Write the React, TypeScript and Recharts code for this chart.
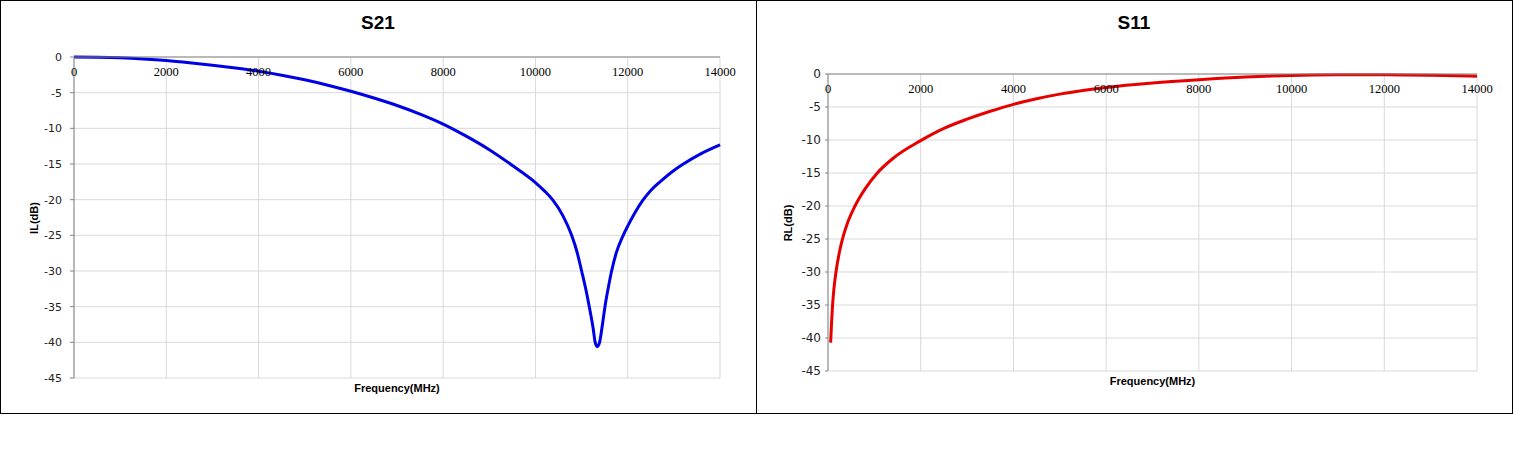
import { LineChart, Line, XAxis, YAxis, CartesianGrid } from 'recharts';

// S21 insertion loss
const s21Freq = [
  0, 500, 1000, 1500, 2000, 2500, 3000, 3500, 4000, 4500, 5000, 5500, 6000,
  6500, 7000, 7500, 8000, 8500, 9000, 9500, 10000, 10200, 10370, 10600, 10785,
  10900, 11001, 11100, 11167, 11250, 11295, 11340, 11390, 11450, 11507, 11580,
  11651, 11750, 11903, 12000, 12150, 12337, 12500, 12700, 13000, 13205, 13600,
  14000,
];
const s21Loss = [
  0, -0.03, -0.12, -0.28, -0.5, -0.8, -1.15, -1.55, -2.0, -2.55, -3.2, -3.95,
  -4.8, -5.75, -6.8, -8.0, -9.4, -11.1, -13.0, -15.2, -17.6, -18.8, -20, -22.3,
  -25, -27.3, -30, -32.8, -35, -38, -40, -40.6, -40, -37.6, -35, -32.3, -30,
  -27.5, -25, -23.7, -21.9, -20, -18.7, -17.5, -15.9, -15, -13.5, -12.3,
];

// S11 return loss
const s11Freq = [
  57, 75, 93, 130, 172, 240, 309, 430, 582, 800, 1050, 1400, 2000, 2500, 3000,
  3500, 4000, 4500, 5000, 5500, 6000, 7000, 8000, 9000, 10000, 11000, 12000,
  13000, 14000,
];
const s11Loss = [
  -40.7, -38, -35.6, -32.4, -30, -27.2, -25.1, -22.4, -20, -17.4, -15.1, -12.8,
  -10.1, -8.25, -6.85, -5.65, -4.6, -3.75, -3.05, -2.5, -2.05, -1.38, -0.88,
  -0.47, -0.22, -0.12, -0.1, -0.18, -0.35,
];

const freqTicks = [0, 2000, 4000, 6000, 8000, 10000, 12000, 14000];
const dbTicks = [0, -5, -10, -15, -20, -25, -30, -35, -40, -45];

const s21Data = s21Freq.map((f, i) => ({ f, v: s21Loss[i] }));
const s11Data = s11Freq.map((f, i) => ({ f, v: s11Loss[i] }));

function Panel({
  data,
  color,
  title,
  yLabel,
  margin,
  yFont,
  yGap,
  yTickLen,
  freqTop,
  leftPx,
}: any) {
  const plotLeft = margin.left;
  const plotRight = 756 - margin.right;
  const plotTop = margin.top;
  const plotBottom = 412 - margin.bottom;

  const freqTick = (p: any) => (
    <text
      key={p.index}
      x={p.x}
      y={plotTop + 19}
      textAnchor="middle"
      fontFamily="'Liberation Serif', serif"
      fontSize={12.5}
      fill="#000"
    >
      {p.payload.value}
    </text>
  );

  return (
    <div style={{ position: 'absolute', left: leftPx, top: 0, width: 756, height: 412 }}>
      <div
        style={{
          position: 'absolute',
          left: 0,
          width: 756,
          top: 12,
          textAlign: 'center',
          fontFamily: "'Liberation Sans', sans-serif",
          fontWeight: 'bold',
          fontSize: 19,
        }}
      >
        {title}
      </div>
      <div
        style={{
          position: 'absolute',
          left: (plotLeft + plotRight) / 2 - 100,
          width: 200,
          top: freqTop,
          textAlign: 'center',
          fontFamily: "'Liberation Sans', sans-serif",
          fontWeight: 'bold',
          fontSize: 11,
        }}
      >
        Frequency(MHz)
      </div>
      <div
        style={{
          position: 'absolute',
          left: yLabel.x - 50,
          top: (plotTop + plotBottom) / 2 - 8,
          width: 100,
          height: 16,
          lineHeight: '16px',
          textAlign: 'center',
          transform: 'rotate(-90deg)',
          fontFamily: "'Liberation Sans', sans-serif",
          fontWeight: 'bold',
          fontSize: 11,
        }}
      >
        {yLabel.text}
      </div>
      <LineChart
        width={756}
        height={412}
        data={data}
        margin={{ top: margin.top - 1, right: margin.right, bottom: margin.bottom, left: 0 }}
        style={{ position: 'absolute', left: 0, top: 0 }}
      >
        <CartesianGrid stroke="#d9d9d9" strokeWidth={1} horizontalValues={dbTicks} verticalValues={freqTicks} />
        <XAxis
          dataKey="f"
          type="number"
          orientation="top"
          domain={[0, 14000]}
          ticks={freqTicks}
          height={1}
          tickSize={0}
          tickMargin={0}
          tickLine={false}
          axisLine={{ stroke: '#868686' }}
          tick={freqTick}
          interval={0}
        />
        <YAxis
          type="number"
          domain={[-45, 0]}
          ticks={dbTicks}
          width={margin.left}
          interval={0}
          tickSize={yTickLen}
          tickMargin={yGap}
          tickLine={{ stroke: '#868686' }}
          axisLine={{ stroke: '#868686' }}
          tick={{ fontFamily: "'DejaVu Sans', sans-serif", fontSize: yFont, fill: '#222' }}
        />
        <Line
          dataKey="v"
          type="monotone"
          stroke={color}
          strokeWidth={3}
          dot={false}
          isAnimationActive={false}
        />
      </LineChart>
    </div>
  );
}

export default function App() {
  return (
    <div
      style={{
        position: 'absolute',
        left: 0,
        top: 0,
        width: 1513,
        height: 460,
        background: '#fff',
      }}
    >
      <div
        style={{
          position: 'absolute',
          left: 0,
          top: 0,
          width: 1513,
          height: 414,
          border: '1px solid #000',
          boxSizing: 'border-box',
        }}
      />
      <div style={{ position: 'absolute', left: 756, top: 0, width: 1, height: 414, background: '#000' }} />
      <Panel
        data={s21Data}
        color="#0000e6"
        title="S21"
        yLabel={{ text: 'IL(dB)', x: 34 }}
        margin={{ top: 57, right: 36, bottom: 34, left: 74 }}
        yFont={11}
        yGap={8}
        yTickLen={4}
        freqTop={382}
        leftPx={0}
      />
      <Panel
        data={s11Data}
        color="#e60000"
        title="S11"
        yLabel={{ text: 'RL(dB)', x: 32 }}
        margin={{ top: 74, right: 35, bottom: 41, left: 72 }}
        yFont={12}
        yGap={4}
        yTickLen={3}
        freqTop={375}
        leftPx={756}
      />
    </div>
  );
}
